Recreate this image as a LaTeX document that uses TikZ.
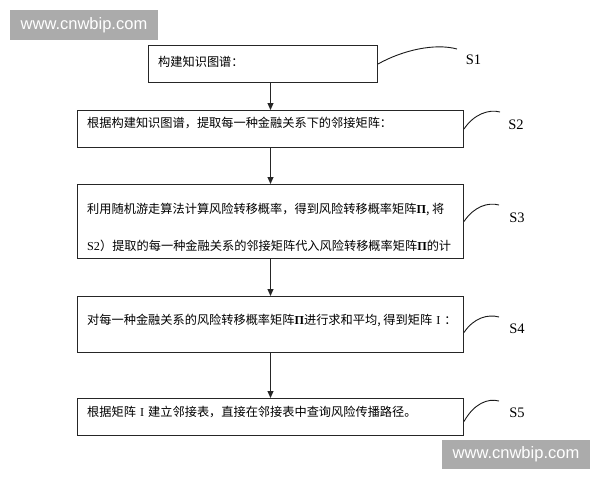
\documentclass[tikz,border=0pt]{standalone}
\usepackage{fontspec}
\setmainfont{Liberation Serif}
\newfontfamily\cjk{Noto Sans CJK SC}
\newfontfamily\grfont{Liberation Serif}
\newfontfamily\wmfont{Liberation Sans}
\usetikzlibrary{arrows.meta}

\newcommand\romI{\makebox[1em]{\grfont I}}
\newcommand\bPi{{\grfont\bfseries Π}}

\tikzset{
  stepbox/.style={draw=black!85, line width=1pt, anchor=north west, inner sep=0pt},
  steptext/.style={anchor=west, inner sep=0pt, text=black, font=\cjk\fontsize{12.2}{14}\selectfont},
  steplabel/.style={font=\fontsize{14.5}{16}\selectfont, text=black},
  lead/.style={line width=0.9pt, black!90},
  flow/.style={line width=1pt, black!85, -{Triangle[length=7pt,width=6pt]}},
  wmark/.style={fill=black!33, text=white, minimum width=148pt, minimum height=30pt, inner sep=0pt, font=\wmfont\fontsize{16.5}{18}\selectfont}
}

\begin{document}
\begin{tikzpicture}[x=1pt,y=-1pt]
\useasboundingbox (0,0) rectangle (600,480);

% watermarks
\node[wmark] (wm1) at (84,25) {www.cnwbip.com};
\node[wmark, minimum height=29pt] (wm2) at (516,454.5) {www.cnwbip.com};

% step boxes
\node[stepbox, minimum width=229pt, minimum height=37pt] (s1) at (148,45) {};
\node[stepbox, minimum width=386pt, minimum height=37pt] (s2) at (77,110) {};
\node[stepbox, minimum width=386pt, minimum height=74pt] (s3) at (77,184) {};
\node[stepbox, minimum width=386pt, minimum height=56pt] (s4) at (77,296) {};
\node[stepbox, minimum width=386pt, minimum height=37pt] (s5) at (77,398) {};

% step texts
\node[steptext] (t1) at (158,62) {构建知识图谱：};
\node[steptext] (t2) at (87,123) {根据构建知识图谱，提取每一种金融关系下的邻接矩阵：};
\node[steptext, align=left, font=\cjk\fontsize{12.2}{37}\selectfont] (t3) at (87,227.5)
  {利用随机游走算法计算风险转移概率，得到风险转移概率矩阵\bPi, 将\\
   {\grfont S2}）提取的每一种金融关系的邻接矩阵代入风险转移概率矩阵\bPi 的计};
\node[steptext] (t4) at (87,320) {对每一种金融关系的风险转移概率矩阵\bPi 进行求和平均, 得到矩阵\romI：};
\node[steptext] (t5) at (87,412) {根据矩阵\romI 建立邻接表，直接在邻接表中查询风险传播路径。};

% arrows
\draw[flow] (s1.south -| s2.north) -- (s2.north);
\draw[flow] (s2.south) -- (s3.north);
\draw[flow] (s3.south) -- (s4.north);
\draw[flow] (s4.south) -- (s5.north);

% leader curves and labels
\coordinate (e1) at (457,49);
\coordinate (e2) at (500,112);
\coordinate (e3) at (499,205);
\coordinate (e4) at (499,317);
\coordinate (e5) at (499,401);

\draw[lead] (s1.east) .. controls +(25,-14) and +(-22,-6) .. (e1);
\draw[lead] (s2.east) .. controls +(10,-15) and +(-11,-3) .. (e2);
\draw[lead] (s3.east) .. controls +(10,-15) and +(-11,-3) .. (e3);
\draw[lead] ([yshift=-8pt]s4.east) .. controls +(10,-15) and +(-11,-3) .. (e4);
\draw[lead] ([yshift=-4.5pt]s5.east) .. controls +(10,-18) and +(-11,-3) .. (e5);

\node[steplabel] (l1) at (473.5,60) {S1};
\node[steplabel] (l2) at (516,125) {S2};
\node[steplabel] (l3) at (517,218) {S3};
\node[steplabel] (l4) at (517,329) {S4};
\node[steplabel] (l5) at (517,413) {S5};
\end{tikzpicture}
\end{document}
